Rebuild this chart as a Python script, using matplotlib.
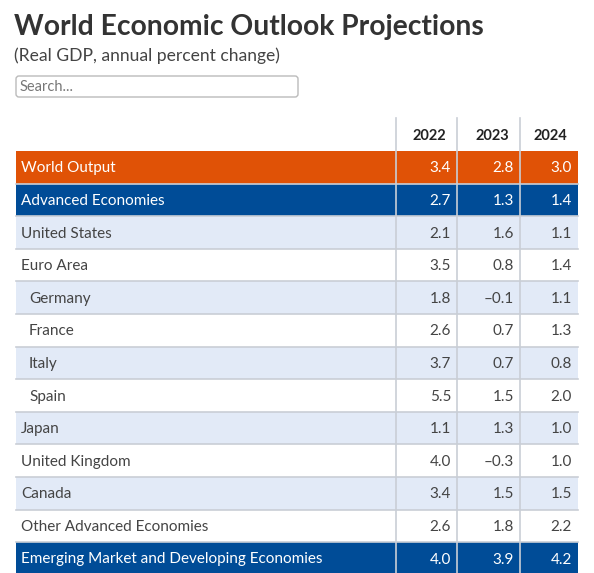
import matplotlib
matplotlib.use("Agg")
import matplotlib.pyplot as plt
from matplotlib.patches import Rectangle, FancyBboxPatch

title = "World Economic Outlook Projections"
subtitle = "(Real GDP, annual percent change)"
years = ["2022", "2023", "2024"]
rows = ["World Output", "Advanced Economies", "United States", "Euro Area",
        "Germany", "France", "Italy", "Spain", "Japan", "United Kingdom",
        "Canada", "Other Advanced Economies",
        "Emerging Market and Developing Economies"]
v2022 = [3.4, 2.7, 2.1, 3.5, 1.8, 2.6, 3.7, 5.5, 1.1, 4.0, 3.4, 2.6, 4.0]
v2023 = [2.8, 1.3, 1.6, 0.8, -0.1, 0.7, 0.7, 1.5, 1.3, -0.3, 1.5, 1.8, 3.9]
v2024 = [3.0, 1.4, 1.1, 1.4, 1.1, 1.3, 0.8, 2.0, 1.0, 1.0, 1.5, 2.2, 4.2]
indented = ["Germany", "France", "Italy", "Spain"]
row_kind = ["world", "group", "shade", "plain", "shade", "plain", "shade",
            "plain", "shade", "plain", "shade", "plain", "group"]

W, H = 594, 573
fig = plt.figure(figsize=(W / 100, H / 100), dpi=100)
ax = fig.add_axes([0, 0, 1, 1])
ax.set_xlim(0, W)
ax.set_ylim(H, 0)
ax.axis("off")

FONT = ["Lato", "DejaVu Sans"]
ORANGE = "#E05206"
BLUE = "#004C97"
SHADE = "#E2EAF7"
GRID = "#C9CED6"

ax.text(14, 27, title, fontsize=20.3, fontweight="bold", color="#333333",
        family=FONT, va="center", ha="left")
ax.text(14, 56, subtitle, fontsize=12.6, color="#444444", family=FONT,
        va="center", ha="left")
box = FancyBboxPatch((16, 76), 282, 21, boxstyle="round,pad=0,rounding_size=3",
                     facecolor="white", edgecolor="#BBBBBB", linewidth=1)
ax.add_patch(box)
ax.text(20, 87, "Search...", fontsize=10.5, color="#777777", family=FONT,
        va="center", ha="left")

left, right = 16, 578
col_edges = [396, 457, 520, 578]
header_top, header_bot = 118, 151
row_h = 32.6

# header
for i, y in enumerate(years):
    ax.text(col_edges[i + 1] - 11, (header_top + header_bot) / 2 + 1, y,
            fontsize=10.5, fontweight="bold", color="#222222", family=FONT,
            va="center", ha="right")

fills = {"world": ORANGE, "group": BLUE, "shade": SHADE, "plain": "white"}
for r, name in enumerate(rows):
    top = header_bot + r * row_h
    kind = row_kind[r]
    ax.add_patch(Rectangle((left, top), right - left, row_h,
                           facecolor=fills[kind], edgecolor="none", zorder=1))
    ax.plot([left, right], [top + row_h, top + row_h], color=GRID, lw=1.2,
            zorder=2)
    strong = kind in ("world", "group")
    tcolor = "white" if strong else "#444444"
    x0 = 29 if name in indented else 21
    yc = top + row_h / 2 + 1
    ax.text(x0, yc, name, fontsize=11, color=tcolor, family=FONT,
            va="center", ha="left", zorder=3)
    for c, vals in enumerate([v2022, v2023, v2024]):
        v = vals[r]
        s = f"{v:.1f}".replace("-", "\u2013")
        ax.text(col_edges[c + 1] - 6, yc, s, fontsize=11, color=tcolor,
                family=FONT, va="center", ha="right", zorder=3)

for x in col_edges[:3]:
    ax.plot([x, x], [header_top, H], color=GRID, lw=1.2, zorder=2.5)

fig.savefig("out.png", dpi=100)
